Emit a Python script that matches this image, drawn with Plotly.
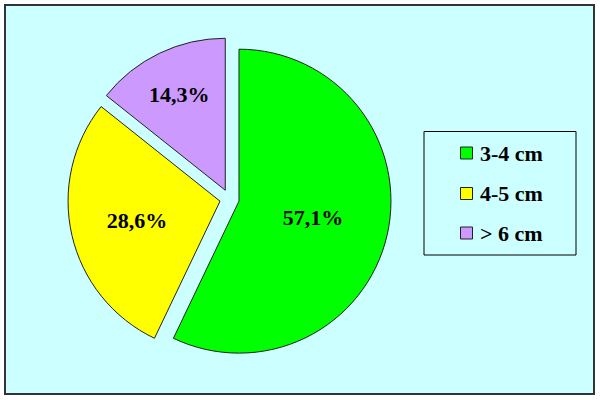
import plotly.graph_objects as go

labels = ["3-4 cm", "4-5 cm", "> 6 cm"]
values = [57.1, 28.6, 14.3]
colors = ["#00FF00", "#FFFF00", "#CC99FF"]
pulls = [0.064, 0.064, 0.064]

W, H = 600, 400
FONT = "Liberation Serif, Times New Roman, serif"

def px(x):
    return x / W

def py(y):
    return 1 - y / H

fig = go.Figure()
fig.add_trace(go.Pie(
    labels=labels,
    values=values,
    marker=dict(colors=colors, line=dict(color="#222222", width=1)),
    pull=pulls,
    sort=False,
    direction="clockwise",
    rotation=0,
    texttemplate="<b>%{percent:.1%}</b>",
    textposition="inside",
    insidetextorientation="horizontal",
    textfont=dict(family=FONT, size=22, color="black"),
    showlegend=False,
    hoverinfo="label+percent",
    domain=dict(x=[px(229.5 - 161.7), px(229.5 + 161.7)],
                y=[1 - (199 + 161.7) / H, 1 - (199 - 161.7) / H]),
))

shapes = [
    dict(type="rect", xref="paper", yref="paper",
         x0=px(5), x1=px(594), y0=py(394), y1=py(5),
         fillcolor="#CCFFFF", line=dict(color="#333333", width=2), layer="below"),
    dict(type="rect", xref="paper", yref="paper",
         x0=px(424), x1=px(576), y0=py(255), y1=py(131.5),
         fillcolor="#CCFFFF", line=dict(color="#000000", width=1), layer="below"),
]
annotations = []
row_y = [153, 193.5, 233]
for lab, col, yy in zip(labels, colors, row_y):
    shapes.append(dict(type="rect", xref="paper", yref="paper",
                       x0=px(460.5), x1=px(472.5), y0=py(yy + 6), y1=py(yy - 6),
                       fillcolor=col, line=dict(color="#222222", width=1), layer="above"))
    annotations.append(dict(xref="paper", yref="paper", x=px(478), y=py(yy),
                            xanchor="left", yanchor="middle", showarrow=False,
                            text="<b>" + lab + "</b>",
                            font=dict(family=FONT, size=22, color="black")))

fig.update_layout(
    width=W, height=H,
    margin=dict(l=0, r=0, t=0, b=0),
    paper_bgcolor="white",
    plot_bgcolor="white",
    separators=",.",
    shapes=shapes,
    annotations=annotations,
)

fig.write_html("out.html",
               config={"displayModeBar": False},
               post_script="document.body.style.margin='0px';document.body.style.padding='0px';")
